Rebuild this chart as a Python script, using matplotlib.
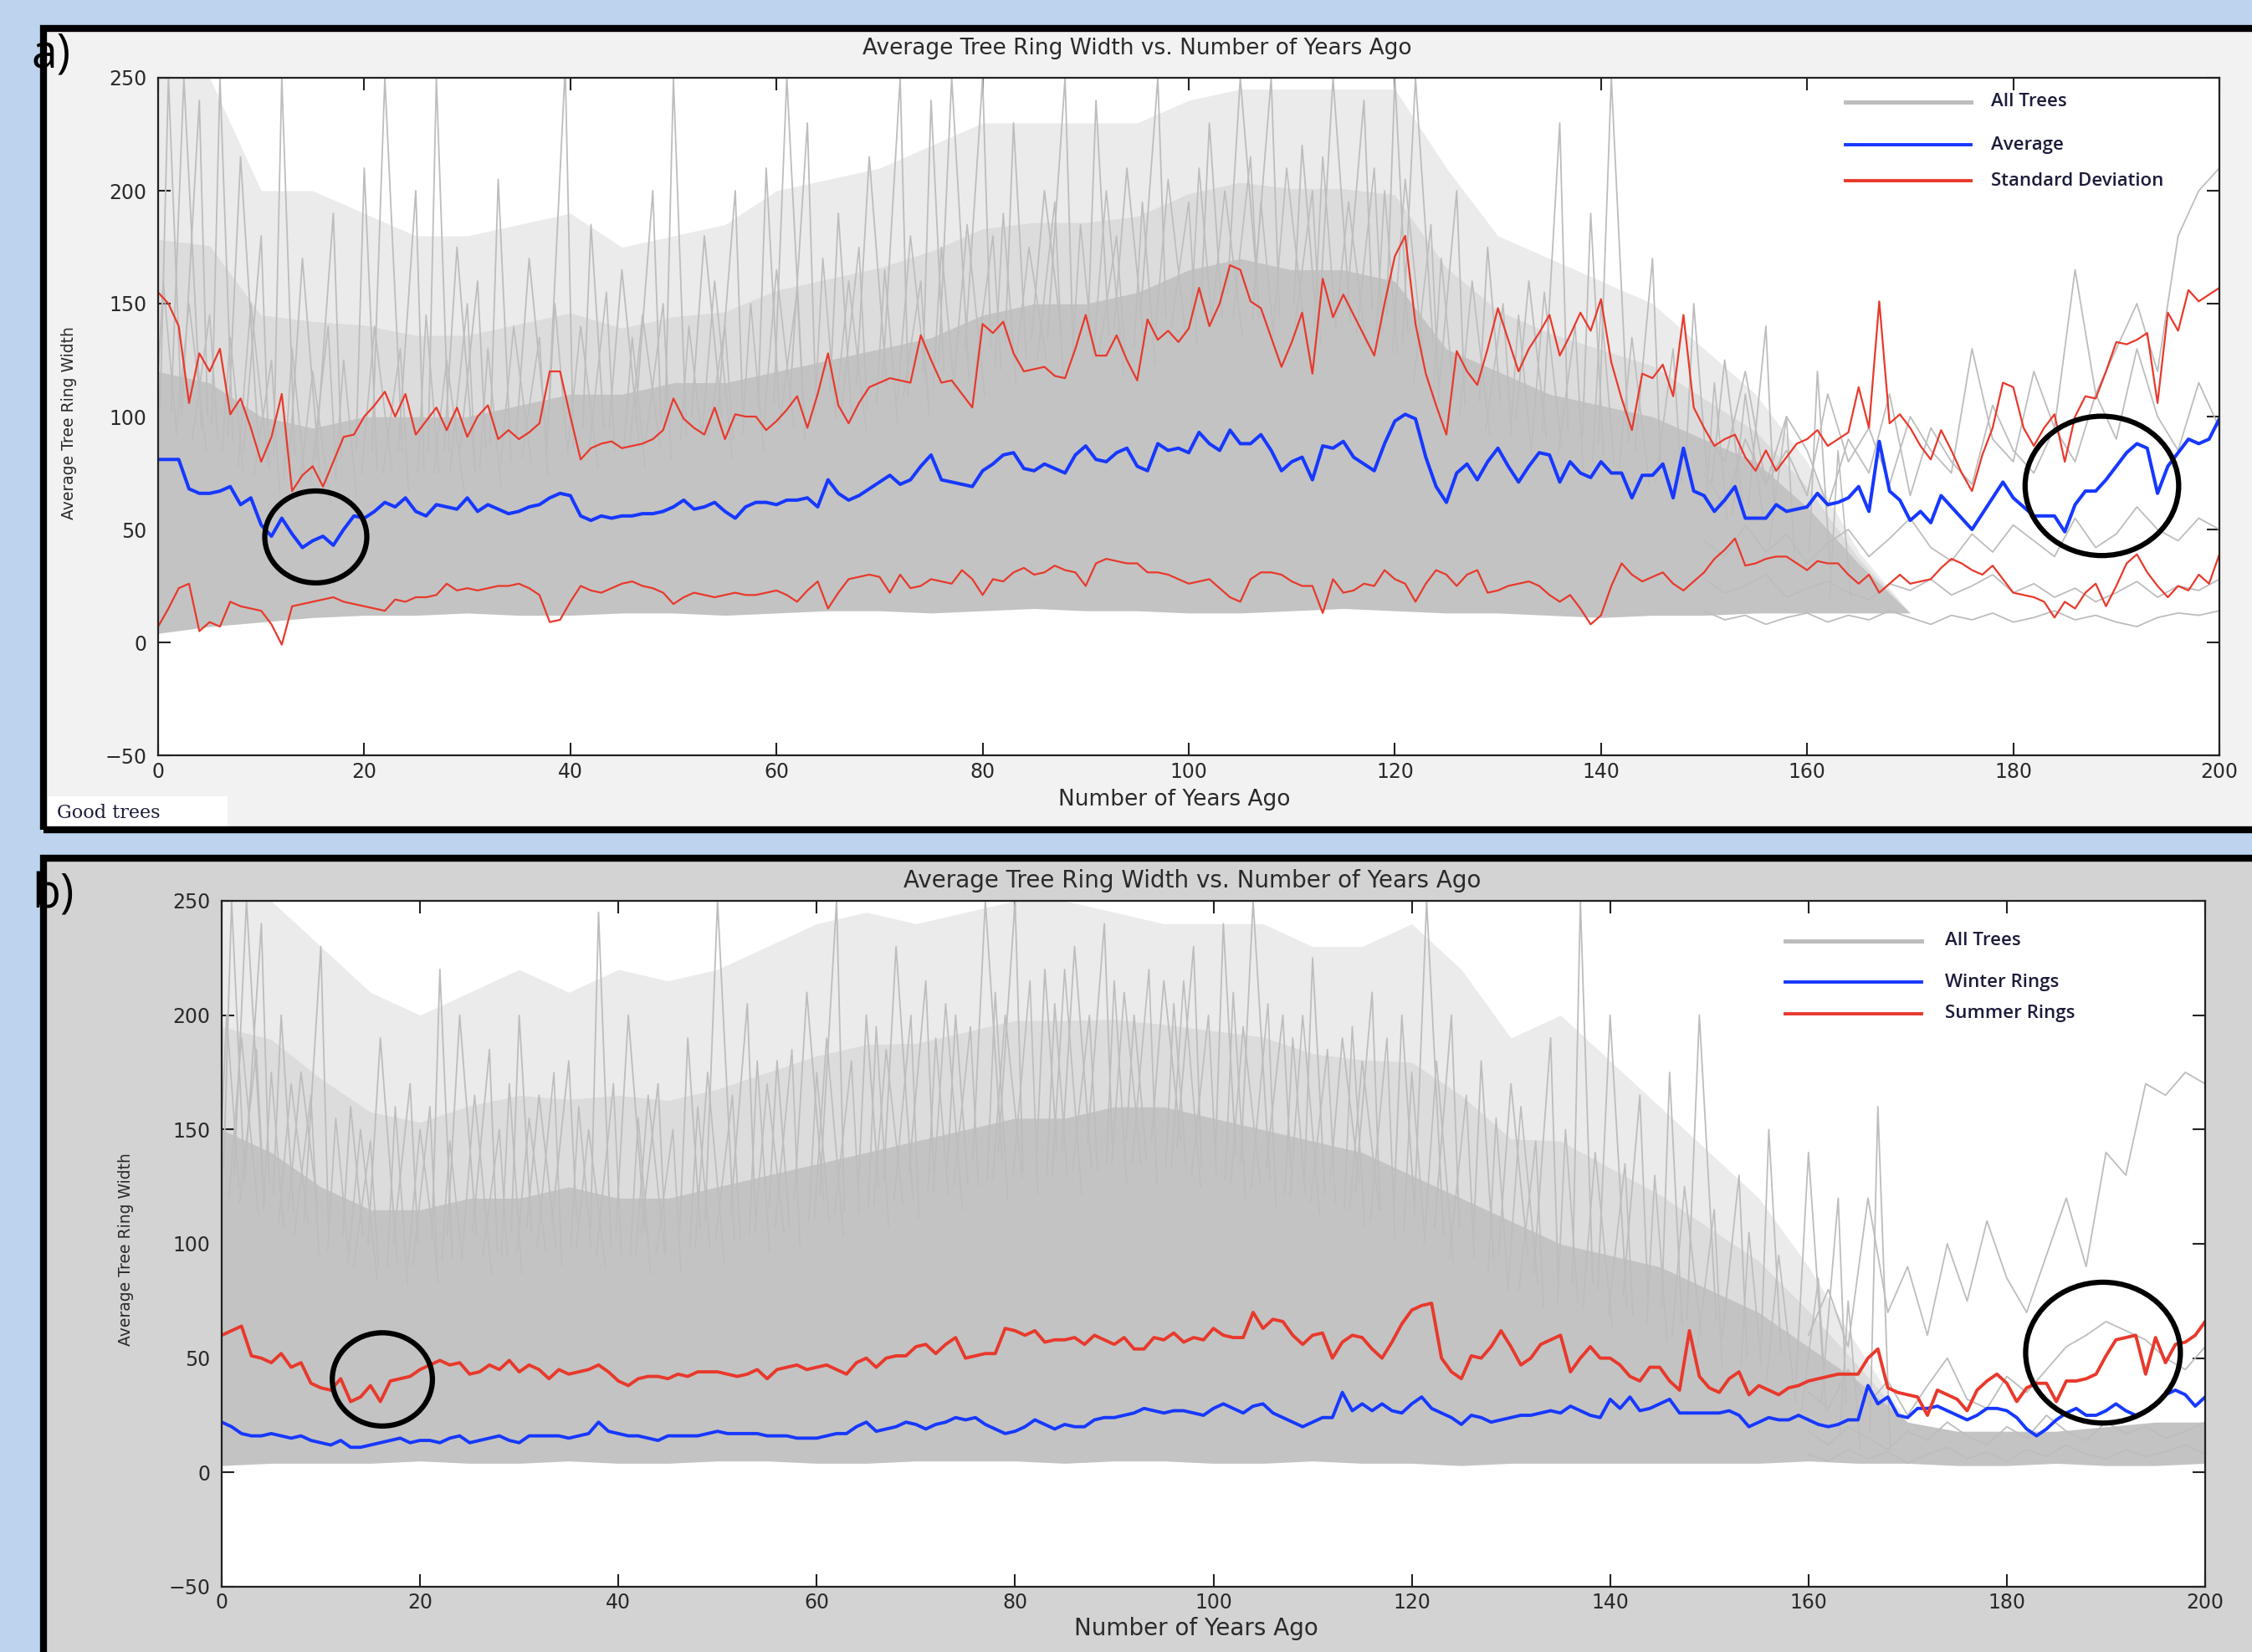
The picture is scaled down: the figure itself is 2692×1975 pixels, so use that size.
import numpy as np
import matplotlib.pyplot as plt
from matplotlib.patches import Rectangle, Ellipse

W, H = 2692, 1975

# x positions
years = np.arange(0, 201)
years5 = np.arange(0, 201, 5)
nan = np.nan

# ---- panel a : good trees ----
avg_a = [81, 81, 81, 68, 66, 66, 67, 69, 61, 64,
         52, 47, 55, 48, 42, 45, 47, 43, 50, 56,
         55, 58, 62, 60, 64, 58, 56, 61, 60, 59,
         64, 58, 61, 59, 57, 58, 60, 61, 64, 66,
         65, 56, 54, 56, 55, 56, 56, 57, 57, 58,
         60, 63, 59, 60, 62, 58, 55, 60, 62, 62,
         61, 63, 63, 64, 60, 72, 66, 63, 65, 68,
         71, 74, 70, 72, 78, 83, 72, 71, 70, 69,
         76, 79, 83, 84, 77, 76, 79, 77, 75, 83,
         87, 81, 80, 84, 86, 78, 76, 88, 85, 86,
         84, 93, 88, 85, 94, 88, 88, 92, 85, 76,
         80, 82, 72, 87, 86, 89, 82, 79, 76, 88,
         98, 101, 99, 82, 69, 62, 75, 79, 72, 80,
         86, 78, 71, 78, 84, 83, 71, 80, 75, 73,
         80, 75, 75, 64, 74, 74, 79, 64, 86, 67,
         65, 58, 63, 69, 55, 55, 55, 61, 58, 59,
         60, 66, 61, 62, 64, 69, 58, 89, 67, 63,
         54, 58, 53, 65, 60, 55, 50, 57, 64, 71,
         64, 60, 56, 56, 56, 49, 61, 67, 67, 72,
         78, 84, 88, 86, 66, 78, 84, 90, 88, 90,
         99]
std_hi_a = [155, 150, 140, 106, 128, 120, 130, 101, 108, 95,
            80, 91, 110, 67, 74, 78, 69, 80, 91, 92,
            100, 105, 111, 100, 110, 92, 98, 104, 94, 104,
            91, 100, 105, 90, 94, 90, 93, 97, 120, 120,
            100, 81, 86, 88, 89, 86, 87, 88, 90, 94,
            108, 99, 95, 92, 104, 90, 101, 100, 100, 94,
            98, 103, 109, 95, 110, 128, 105, 97, 106, 113,
            115, 117, 116, 115, 136, 125, 115, 116, 110, 104,
            141, 137, 142, 128, 120, 121, 122, 118, 117, 130,
            145, 127, 127, 136, 125, 116, 143, 134, 138, 133,
            139, 157, 140, 150, 167, 165, 151, 148, 135, 122,
            133, 146, 119, 161, 144, 154, 145, 136, 127, 150,
            171, 180, 141, 119, 105, 92, 129, 120, 114, 130,
            148, 134, 120, 130, 137, 145, 127, 136, 146, 138,
            152, 124, 108, 94, 119, 117, 123, 109, 145, 104,
            95, 87, 90, 92, 82, 76, 85, 76, 82, 88,
            90, 94, 87, 90, 93, 113, 95, 151, 97, 101,
            95, 87, 81, 94, 85, 75, 67, 83, 95, 115,
            113, 95, 87, 95, 101, 80, 100, 109, 108, 120,
            133, 132, 134, 137, 106, 146, 138, 156, 151, 154,
            157]
std_lo_a = [7, 15, 24, 26, 5, 9, 7, 18, 16, 15,
            14, 8, -1, 16, 17, 18, 19, 20, 18, 17,
            16, 15, 14, 19, 18, 20, 20, 21, 26, 23,
            24, 23, 24, 25, 25, 26, 24, 21, 9, 10,
            18, 25, 23, 22, 24, 26, 27, 25, 24, 22,
            17, 20, 22, 21, 20, 21, 22, 21, 21, 22,
            23, 21, 18, 23, 27, 15, 22, 28, 29, 30,
            29, 22, 30, 24, 25, 28, 27, 26, 32, 28,
            21, 28, 27, 31, 33, 30, 31, 34, 32, 31,
            25, 35, 37, 36, 35, 35, 31, 31, 30, 28,
            26, 27, 28, 24, 20, 18, 28, 31, 31, 30,
            27, 25, 25, 13, 28, 22, 23, 26, 25, 32,
            28, 26, 18, 26, 32, 30, 25, 30, 32, 22,
            23, 25, 26, 27, 25, 21, 18, 21, 15, 8,
            12, 25, 35, 30, 27, 29, 31, 26, 23, 27,
            31, 37, 41, 46, 34, 35, 37, 38, 38, 35,
            32, 36, 35, 35, 30, 26, 30, 22, 26, 30,
            26, 27, 28, 33, 37, 35, 32, 30, 34, 28,
            22, 21, 20, 18, 11, 18, 15, 22, 26, 16,
            25, 35, 39, 31, 25, 20, 25, 23, 30, 26,
            39]

# gray mass of the individual trees, read as envelopes (every 5 years)
core_lo_a = [4, 7, 9, 11, 12, 12, 13, 12, 12, 13, 13, 12, 13, 14, 14, 13, 14,
             15, 14, 14, 13, 13, 14, 15, 14, 13, 13, 12, 11, 12, 12, 13, 13, 13,
             13, nan, nan, nan, nan, nan, nan]
core_hi_a = [120, 115, 100, 95, 100, 100, 100, 105, 110, 110, 115, 115, 120,
             125, 130, 135, 145, 150, 150, 155, 165, 170, 165, 165, 160, 130,
             120, 110, 105, 100, 90, 80, 60, 35, 13,
             nan, nan, nan, nan, nan, nan]
halo_hi_a = [250, 250, 200, 200, 190, 180, 180, 185, 190, 175, 180, 185, 200,
             205, 210, 220, 230, 230, 230, 230, 240, 245, 245, 245, 245, 210,
             180, 170, 160, 150, 130, 110, 80, 40, 13,
             nan, nan, nan, nan, nan, nan]
spike_a_x = [1, 2.5, 4, 6, 8, 10, 12, 14, 17, 20, 22, 25, 27, 29, 31, 33, 36,
             39.5, 42, 45, 48, 50, 53, 56, 59, 61, 63, 66, 69, 72, 75, 77, 80,
             83, 86, 88, 91, 94, 97, 102, 105, 108, 111, 114, 117, 120, 122,
             126, 129, 133, 136, 139, 141, 145, 149, 152, 156, 161]
spike_a_top = [250, 250, 240, 250, 215, 180, 250, 170, 190, 210, 250, 200,
               250, 175, 160, 205, 170, 255, 185, 165, 200, 250, 180, 200, 210,
               250, 230, 190, 215, 250, 240, 250, 250, 230, 200, 250, 240, 210,
               250, 230, 250, 250, 220, 250, 240, 250, 250, 200, 175, 160, 230,
               190, 250, 170, 150, 125, 140, 120]
mid_a_x = [0.5, 3, 5, 7, 9, 11, 13, 15, 16.5, 18, 21, 23.5, 26, 28, 30, 32,
           34.5, 37, 38.5, 41, 43.5, 46, 47, 49, 51.5, 54, 55, 57.5, 60, 62,
           64.5, 67, 68, 70.5, 73, 74, 76, 78.5, 81, 82, 84.5, 87, 89.5, 92,
           93, 95.5, 98, 100, 101, 103.5, 106, 107, 109.5, 112, 113, 115.5,
           118, 119, 121, 123.5, 124.5, 127.5, 130.5, 132, 134.5, 137.5, 140,
           143, 147, 151, 154, 158, 163]
mid_a_top = [160, 150, 145, 135, 150, 125, 130, 120, 140, 125, 140, 130, 145,
             125, 150, 130, 140, 135, 150, 140, 155, 135, 145, 150, 140, 160,
             140, 150, 165, 155, 170, 160, 175, 165, 180, 160, 175, 185, 180,
             190, 175, 195, 185, 200, 180, 195, 205, 195, 210, 200, 215, 195,
             210, 200, 215, 195, 210, 200, 205, 185, 170, 160, 150, 145, 155,
             140, 150, 135, 130, 115, 110, 100, 85]
tail_years_a = np.arange(150, 201, 2)
tails_a = [
    [14, 10, 12, 8, 11, 13, 9, 12, 10, 14, 11, 8, 12, 10, 13, 9, 11, 14, 10,
     12, 9, 7, 11, 13, 12, 14],
    [28, 22, 25, 30, 20, 24, 27, 22, 19, 26, 23, 28, 21, 25, 30, 22, 26, 20,
     24, 18, 22, 27, 20, 25, 23, 28],
    [45, 38, 52, 40, 48, 35, 44, 50, 38, 46, 55, 42, 36, 48, 40, 52, 45, 38,
     55, 42, 48, 60, 50, 45, 55, 50],
    [75, 60, 90, 70, 85, 65, 110, 80, 95, 70, 100, 85, 75, 130, 90, 80, 120,
     95, 165, 110, 90, 130, 100, 85, 115, 95],
    [95, 80, 120, 70, 100, 85, 60, 90, 75, 110, 65, 95, 80, 70, 105, 85, 75,
     95, 80, 110, 130, 150, 120, 180, 200, 210],
]

# ---- panel b : winter / summer rings ----
winter_b = [22, 20, 17, 16, 16, 17, 16, 15, 16, 14,
            13, 12, 14, 11, 11, 12, 13, 14, 15, 13,
            14, 14, 13, 15, 16, 13, 14, 15, 16, 14,
            13, 16, 16, 16, 16, 15, 16, 17, 22, 18,
            17, 16, 16, 15, 14, 16, 16, 16, 16, 17,
            18, 17, 17, 17, 17, 16, 16, 16, 15, 15,
            15, 16, 17, 17, 20, 22, 18, 19, 20, 22,
            21, 19, 21, 22, 24, 23, 24, 21, 19, 17,
            18, 20, 23, 21, 19, 21, 20, 20, 23, 24,
            24, 25, 26, 28, 27, 26, 27, 27, 26, 25,
            28, 30, 28, 26, 29, 30, 26, 24, 22, 20,
            22, 24, 24, 35, 27, 30, 27, 30, 27, 26,
            30, 33, 28, 26, 24, 21, 25, 24, 22, 23,
            24, 25, 25, 26, 27, 26, 29, 27, 25, 24,
            32, 28, 33, 27, 28, 30, 32, 26, 26, 26,
            26, 26, 27, 25, 20, 22, 24, 23, 23, 25,
            23, 21, 20, 21, 23, 23, 38, 30, 33, 25,
            24, 28, 28, 29, 27, 25, 23, 25, 28, 28,
            27, 24, 19, 16, 19, 23, 26, 28, 25, 25,
            27, 30, 27, 25, 27, 30, 34, 36, 34, 29,
            33]
summer_b = [60, 62, 64, 51, 50, 48, 52, 46, 48, 39,
            37, 36, 41, 31, 33, 38, 31, 40, 41, 42,
            45, 47, 49, 47, 48, 43, 44, 47, 45, 49,
            44, 47, 45, 41, 45, 43, 44, 45, 47, 44,
            40, 38, 41, 42, 42, 41, 43, 42, 44, 44,
            44, 43, 42, 43, 45, 41, 45, 46, 47, 45,
            46, 47, 45, 43, 48, 50, 46, 50, 51, 51,
            55, 56, 52, 56, 59, 50, 51, 52, 52, 63,
            62, 60, 62, 57, 58, 58, 59, 56, 60, 58,
            56, 59, 54, 54, 59, 58, 61, 57, 59, 58,
            63, 60, 59, 59, 70, 63, 67, 66, 60, 56,
            60, 61, 50, 57, 60, 59, 54, 50, 57, 65,
            71, 73, 74, 50, 44, 41, 51, 50, 55, 62,
            55, 47, 50, 56, 58, 60, 44, 50, 55, 50,
            50, 47, 42, 40, 46, 46, 40, 36, 62, 42,
            37, 35, 41, 44, 34, 38, 36, 34, 37, 38,
            40, 41, 42, 43, 43, 43, 50, 54, 37, 35,
            34, 33, 25, 36, 34, 32, 27, 36, 40, 43,
            39, 31, 37, 39, 39, 31, 40, 40, 41, 43,
            51, 58, 59, 60, 43, 59, 48, 56, 57, 60,
            66]
core_lo_b = [3, 4, 4, 4, 5, 4, 4, 5, 4, 4, 5, 5, 4, 4, 5, 5, 5, 4, 5, 5, 4, 4,
             5, 4, 4, 3, 4, 4, 4, 4, 4, 4, 5, 4, 4, 3, 3, 4, 3, 3, 4]
core_hi_b = [150, 140, 125, 115, 115, 120, 120, 125, 120, 120, 125, 130, 135,
             140, 145, 150, 155, 155, 160, 160, 155, 150, 145, 140, 130, 120,
             110, 100, 95, 90, 80, 70, 55, 40, 22, 18, 18, 18, 20, 22, 22]
halo_hi_b = [250, 250, 230, 210, 200, 210, 220, 210, 220, 215, 220, 230, 240,
             245, 240, 245, 250, 250, 245, 240, 240, 240, 230, 230, 240, 220,
             190, 200, 180, 160, 140, 120, 90, 55, 22,
             nan, nan, nan, nan, nan, nan]
spike_b_x = [1, 2.5, 4, 6, 8, 10, 13, 16, 19, 22, 24, 27, 30, 32, 35, 38, 41,
             44, 47, 50, 53, 56, 59, 62, 65, 68, 71, 74, 77, 80, 83, 86, 89, 92,
             95, 98, 101, 104, 107, 110, 113, 116, 119, 121.5, 124, 127, 130,
             134, 137, 140, 143, 146, 149, 153, 156, 160, 163, 167]
spike_b_top = [250, 250, 240, 200, 175, 230, 160, 190, 170, 220, 200, 185,
               200, 165, 180, 245, 200, 170, 190, 250, 205, 180, 210, 250, 200,
               230, 215, 200, 250, 250, 220, 230, 240, 200, 215, 230, 240, 250,
               200, 225, 190, 210, 200, 250, 200, 180, 170, 190, 250, 200, 165,
               175, 200, 130, 150, 140, 120, 160]
mid_b_x = [0.5, 2, 3.5, 5, 7, 9, 11.5, 14, 15, 17.5, 20, 21, 23, 25.5, 28, 29,
           31, 33.5, 36, 37, 39.5, 42, 43, 45.5, 48, 49, 51.5, 54, 55, 57.5,
           60, 61, 63.5, 66, 67, 69.5, 72, 73, 75.5, 78, 79, 81.5, 84, 85,
           87.5, 90, 91, 93.5, 96, 97, 99.5, 102, 103, 105.5, 108, 109, 111.5,
           114, 115, 117.5, 120, 122.5, 125.5, 128.5, 131, 132.5, 135.5, 138.5,
           141.5, 144.5, 147.5, 150.5, 154, 157, 161, 164]
mid_b_top = [200, 190, 185, 175, 170, 165, 155, 150, 145, 160, 150, 160, 145,
             165, 150, 170, 155, 175, 160, 150, 170, 155, 165, 150, 160, 175,
             165, 180, 170, 185, 175, 190, 180, 195, 185, 200, 190, 205, 195,
             210, 200, 215, 205, 220, 200, 215, 210, 220, 205, 215, 200, 210,
             195, 205, 190, 200, 185, 195, 180, 190, 175, 180, 165, 155, 160,
             145, 150, 140, 135, 130, 125, 115, 105, 95, 85, 75]
tail_years_b = np.arange(160, 201, 2)
tails_b = [
    [8, 5, 10, 6, 9, 4, 8, 11, 6, 9, 5, 10, 7, 12, 8, 6, 10, 7, 9, 12, 8],
    [18, 12, 20, 15, 10, 18, 14, 22, 16, 12, 20, 15, 25, 18, 14, 22, 17, 20,
     15, 18, 22],
    [35, 28, 45, 30, 40, 25, 38, 50, 32, 28, 42, 35, 45, 55, 60, 66, 62, 58,
     50, 45, 55],
    [60, 80, 55, 120, 70, 90, 60, 100, 75, 110, 85, 70, 95, 120, 90, 140, 130,
     170, 165, 175, 170],
]

GRAY = '#bdbdbd'
BLUE = '#1638ff'
RED = '#e8392c'
TXT = '#1c1c3a'


def fx(x):
    return x / W


def fy(y):
    return 1 - y / H


def spikes(ax, xs, tops, base_x, base_y, drop, lw):
    ok = ~np.isnan(base_y)
    for i, (x, t) in enumerate(zip(xs, tops)):
        b = np.interp(x, base_x[ok], base_y[ok]) - drop
        wl = 0.8 + 0.45 * (i % 3)
        wr = 0.8 + 0.45 * ((i + 1) % 3)
        ax.plot([x - wl, x, x + wr], [b, t, b - 8 * (i % 2)], color=GRAY, lw=lw, zorder=2)


def draw_gray(ax, core_lo, core_hi, halo_hi, sx, stop, mx, mtop, tail_x, tails):
    lo = np.array(core_lo, float)
    hi = np.array(core_hi, float)
    top = np.array(halo_hi, float)
    mid = hi + (top - hi) * 0.45
    ax.fill_between(years5, mid, top, color='#ebebeb', lw=0, zorder=1)
    ax.fill_between(years5, hi, mid, color='#dcdcdc', lw=0, zorder=1)
    ax.fill_between(years5, lo, hi, color='#c3c3c3', lw=0, zorder=2)
    spikes(ax, mx, mtop, years5, hi, 25, 1.2)
    spikes(ax, sx, stop, years5, hi, 15, 1.3)
    for t in tails:
        ax.plot(tail_x, t, color=GRAY, lw=1.3, zorder=2)


def style(ax, ypad, xpad):
    ax.set_xlim(0, 200)
    ax.set_ylim(-50, 250)
    ax.set_xticks(range(0, 201, 20))
    ax.set_yticks(range(-50, 251, 50))
    ax.tick_params(direction='in', length=11, width=1.5, top=True, right=True,
                   labelsize=17, labelcolor='#2a2a2a', color='#222222')
    ax.tick_params(axis='y', pad=ypad)
    ax.tick_params(axis='x', pad=xpad)
    for s in ax.spines.values():
        s.set_linewidth(1.6)
        s.set_color('#222222')
        s.set_zorder(6)


def legend(ax, x0, x1, x2, ys, labels, colors, widths):
    for y, lab, c, w in zip(ys, labels, colors, widths):
        ax.plot([x0, x1], [y, y], transform=ax.transAxes, color=c, lw=w,
                clip_on=False, zorder=7)
        ax.text(x2, y, lab, transform=ax.transAxes, va='center', ha='left',
                fontsize=16, color=TXT, family='Open Sans', weight='semibold', zorder=7)


fig = plt.figure(figsize=(W / 100, H / 100), dpi=100)
fig.patch.set_facecolor('#bed4ee')

# panel backgrounds and frames
fig.add_artist(Rectangle((fx(52), fy(992)), 1, fy(34) - fy(992), transform=fig.transFigure,
                         fc='#f2f2f2', ec='none', zorder=-2))
fig.add_artist(Rectangle((fx(52), fy(992)), 1, fy(34) - fy(992), transform=fig.transFigure,
                         fc='none', ec='black', lw=6, zorder=8))
fig.add_artist(Rectangle((fx(52), -0.1), 1, fy(1026) + 0.1, transform=fig.transFigure,
                         fc='#d3d3d3', ec='none', zorder=-2))
fig.add_artist(Rectangle((fx(52), -0.1), 1, fy(1026) + 0.1, transform=fig.transFigure,
                         fc='none', ec='black', lw=6, zorder=8))
fig.add_artist(Rectangle((fx(57), fy(990)), fx(272) - fx(57), fy(952) - fy(990),
                         transform=fig.transFigure, fc='white', ec='none', zorder=1))
fig.text(fx(68), fy(972), 'Good trees', fontsize=16, family='DejaVu Serif',
         color=TXT, va='center', ha='left', zorder=2)
fig.text(fx(38), fy(66), 'a)', fontsize=40, family='Open Sans', color='black',
         va='center', ha='left', zorder=3)
fig.text(fx(38), fy(1071), 'b)', fontsize=40, family='Open Sans', color='black',
         va='center', ha='left', zorder=3)

# ---- panel a ----
ax1 = fig.add_axes([fx(189), fy(903), fx(2653) - fx(189), fy(93) - fy(903)])
ax1.set_facecolor('white')
draw_gray(ax1, core_lo_a, core_hi_a, halo_hi_a, spike_a_x, spike_a_top,
          mid_a_x, mid_a_top, tail_years_a, tails_a)
ax1.plot(years, std_hi_a, color=RED, lw=1.6, zorder=4)
ax1.plot(years, std_lo_a, color=RED, lw=1.6, zorder=4)
ax1.plot(years, avg_a, color=BLUE, lw=2.9, zorder=5)
for cx, cy, w, h in [(15.3, 46.7, 9.9, 40.7), (188.6, 69.3, 14.9, 61.7)]:
    ax1.add_patch(Ellipse((cx, cy), w, h, fc='none', ec='black', lw=4.5, zorder=6))
style(ax1, 10, 6)
fig.text(fx(1359), fy(58), 'Average Tree Ring Width vs. Number of Years Ago',
         fontsize=19, color='#2a2a2a', ha='center', va='center')
fig.text(fx(1404), fy(956), 'Number of Years Ago', fontsize=19, color='#2a2a2a',
         ha='center', va='center')
fig.text(fx(82), fy(506), 'Average Tree Ring Width', fontsize=13.5, color='#2a2a2a',
         ha='center', va='center', rotation=90)
legend(ax1, 0.8186, 0.8795, 0.8892, [0.9642, 0.9012, 0.8481],
       ['All Trees', 'Average', 'Standard Deviation'], ['#bdbdbd', BLUE, RED], [3.6, 2.8, 2.8])

# ---- panel b ----
ax2 = fig.add_axes([fx(265), fy(1897), fx(2636) - fx(265), fy(1077) - fy(1897)])
ax2.set_facecolor('white')
draw_gray(ax2, core_lo_b, core_hi_b, halo_hi_b, spike_b_x, spike_b_top,
          mid_b_x, mid_b_top, tail_years_b, tails_b)
ax2.plot(years, winter_b, color=BLUE, lw=2.8, zorder=5)
ax2.plot(years, summer_b, color=RED, lw=2.8, zorder=5)
for cx, cy, w, h in [(16.2, 40.7, 10.1, 40.8), (189.7, 52.4, 15.6, 61.6)]:
    ax2.add_patch(Ellipse((cx, cy), w, h, fc='none', ec='black', lw=4.5, zorder=6))
style(ax2, 10, 5)
fig.text(fx(1425), fy(1053), 'Average Tree Ring Width vs. Number of Years Ago',
         fontsize=20, color='#2a2a2a', ha='center', va='center')
fig.text(fx(1430), fy(1947), 'Number of Years Ago', fontsize=20, color='#2a2a2a',
         ha='center', va='center')
fig.text(fx(151), fy(1494), 'Average Tree Ring Width', fontsize=13.5, color='#2a2a2a',
         ha='center', va='center', rotation=90)
legend(ax2, 0.7883, 0.8570, 0.8688, [0.9415, 0.8817, 0.8354],
       ['All Trees', 'Winter Rings', 'Summer Rings'], ['#bdbdbd', BLUE, RED], [3.6, 2.8, 2.8])

fig.savefig('out.png', dpi=100, facecolor=fig.get_facecolor())
